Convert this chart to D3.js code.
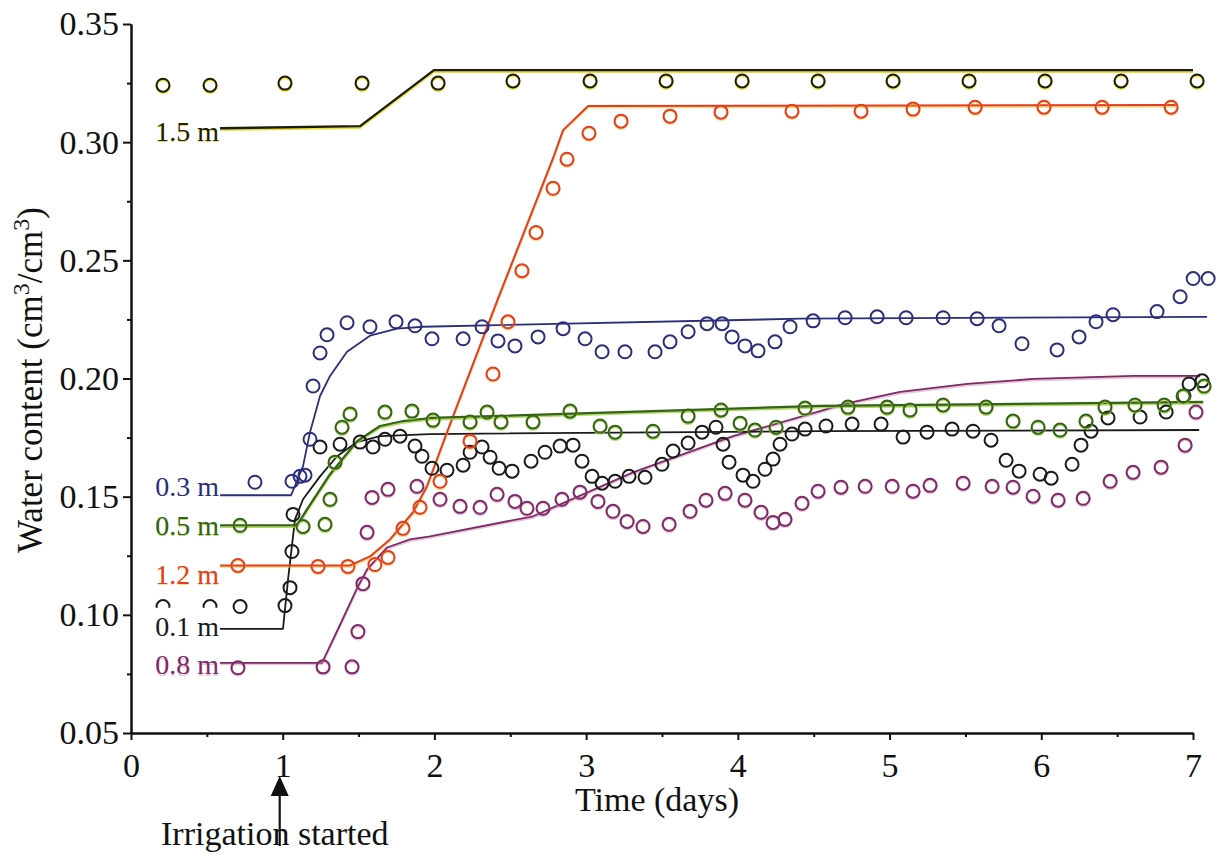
<!DOCTYPE html>
<html><head><meta charset="utf-8">
<script src="https://cdn.jsdelivr.net/npm/d3@7"></script>
<style>
body{margin:0;background:#fff}
svg{display:block}
text{font-family:"Liberation Serif","Times New Roman",serif}
</style>
</head><body>
<svg id="chart" width="1223" height="867"></svg>
<script>
// ---------- data ----------
const seriesNames = ["1.5 m","0.3 m","0.5 m","1.2 m","0.1 m","0.8 m"];
const xTicks = [0,1,2,3,4,5,6,7];
const yTicks = [0.05,0.10,0.15,0.20,0.25,0.30,0.35];

// model (simulated) curves
const m15Days = [0.587,1.51,1.997,7.0];
const m15Vals = [0.3059,0.3068,0.3305,0.3305];
const m03Days = [0.587,1.055,1.134,1.180,1.246,1.312,1.424,1.575,1.753,1.925,4.410,7.093];
const m03Vals = [0.1506,0.1506,0.1629,0.1773,0.1926,0.2011,0.2113,0.2181,0.2211,0.2219,0.2253,0.2261];
const m05Days = [0.587,1.094,1.160,1.312,1.490,1.641,1.793,1.971,4.542,7.067];
const m05Vals = [0.1379,0.1379,0.1446,0.1595,0.1735,0.1799,0.1820,0.1833,0.1884,0.1901];
const m12Days = [0.587,1.444,1.575,1.707,1.859,1.951,2.083,2.419,2.782,2.848,3.013,6.895];
const m12Vals = [0.1209,0.1209,0.1247,0.1319,0.1434,0.1544,0.1773,0.2338,0.2932,0.3051,0.3153,0.3157];
const m01Days = [0.587,1.002,1.035,1.081,1.134,1.246,1.358,1.490,1.641,1.971,4.542,7.041];
const m01Vals = [0.0941,0.0941,0.1149,0.1404,0.1489,0.1586,0.1671,0.1731,0.1756,0.1765,0.1777,0.1782];
const m08Days = [0.587,1.259,1.378,1.496,1.556,1.688,1.839,1.971,2.650,3.309,3.968,4.542,4.694,5.069,5.511,5.946,6.605,7.047];
const m08Vals = [0.0797,0.0797,0.0958,0.1120,0.1192,0.1285,0.1319,0.1332,0.1417,0.1603,0.1756,0.1862,0.1892,0.1943,0.1977,0.1998,0.2011,0.2011];

// measured points
const o15Days = [0.211,0.521,1.015,1.523,2.024,2.518,3.026,3.527,4.028,4.529,5.023,5.524,6.025,6.526,7.027];
const o15Vals = [0.3241,0.3241,0.3250,0.3250,0.3250,0.3259,0.3259,0.3259,0.3259,0.3259,0.3259,0.3259,0.3259,0.3259,0.3259];
const o03Days = [0.817,1.061,1.114,1.147,1.180,1.200,1.246,1.292,1.424,1.575,1.747,1.872,1.984,2.189,2.314,2.419,2.531,2.683,2.848,2.993,3.105,3.256,3.454,3.553,3.672,3.797,3.896,3.962,4.047,4.133,4.245,4.344,4.496,4.707,4.918,5.109,5.353,5.577,5.722,5.873,6.104,6.249,6.361,6.473,6.763,6.915,7.001,7.100];
const o03Vals = [0.1561,0.1565,0.1586,0.1591,0.1743,0.1968,0.2108,0.2185,0.2236,0.2219,0.2240,0.2223,0.2168,0.2168,0.2219,0.2159,0.2138,0.2176,0.2211,0.2168,0.2113,0.2113,0.2113,0.2155,0.2198,0.2232,0.2232,0.2176,0.2138,0.2117,0.2155,0.2219,0.2244,0.2257,0.2261,0.2257,0.2257,0.2253,0.2223,0.2147,0.2121,0.2176,0.2240,0.2270,0.2283,0.2346,0.2423,0.2423];
const o05Days = [0.719,1.134,1.279,1.312,1.345,1.391,1.444,1.674,1.852,1.991,2.235,2.347,2.439,2.650,2.894,3.092,3.191,3.441,3.672,3.889,4.015,4.113,4.252,4.443,4.726,4.984,5.135,5.353,5.636,5.814,5.979,6.124,6.295,6.420,6.618,6.810,6.935,7.073];
const o05Vals = [0.1379,0.1374,0.1383,0.1489,0.1646,0.1794,0.1850,0.1858,0.1862,0.1824,0.1816,0.1858,0.1816,0.1816,0.1862,0.1799,0.1773,0.1777,0.1841,0.1867,0.1811,0.1782,0.1794,0.1875,0.1879,0.1879,0.1867,0.1888,0.1879,0.1820,0.1794,0.1782,0.1820,0.1879,0.1888,0.1888,0.1926,0.1968];
const o12Days = [0.705,1.233,1.430,1.608,1.694,1.793,1.905,2.037,2.235,2.386,2.485,2.577,2.670,2.782,2.874,3.019,3.230,3.553,3.889,4.357,4.812,5.155,5.564,6.018,6.401,6.856];
const o12Vals = [0.1209,0.1205,0.1205,0.1213,0.1243,0.1366,0.1455,0.1565,0.1735,0.2019,0.2240,0.2456,0.2618,0.2805,0.2928,0.3038,0.3089,0.3110,0.3127,0.3131,0.3131,0.3140,0.3148,0.3148,0.3148,0.3148];
const o01Days = [0.211,0.521,0.719,1.015,1.048,1.061,1.068,1.246,1.378,1.510,1.595,1.674,1.773,1.872,1.918,1.984,2.083,2.189,2.235,2.314,2.367,2.426,2.512,2.637,2.729,2.828,2.914,2.973,3.039,3.105,3.191,3.283,3.388,3.500,3.573,3.672,3.764,3.856,3.902,3.942,4.034,4.100,4.179,4.232,4.278,4.357,4.443,4.581,4.753,4.944,5.089,5.247,5.412,5.550,5.669,5.768,5.854,5.992,6.065,6.203,6.262,6.328,6.440,6.651,6.823,6.941,6.974,7.060];
const o01Vals = [0.1035,0.1035,0.1035,0.1039,0.1115,0.1268,0.1425,0.1710,0.1722,0.1731,0.1710,0.1743,0.1756,0.1714,0.1671,0.1620,0.1612,0.1633,0.1688,0.1710,0.1667,0.1620,0.1608,0.1650,0.1688,0.1714,0.1718,0.1650,0.1586,0.1557,0.1565,0.1586,0.1582,0.1637,0.1693,0.1727,0.1773,0.1794,0.1722,0.1646,0.1591,0.1565,0.1616,0.1659,0.1722,0.1765,0.1786,0.1799,0.1807,0.1807,0.1752,0.1773,0.1786,0.1777,0.1739,0.1654,0.1608,0.1595,0.1578,0.1637,0.1718,0.1777,0.1833,0.1837,0.1858,0.1926,0.1977,0.1990];
const o08Days = [0.705,1.266,1.457,1.496,1.529,1.556,1.589,1.694,1.885,2.037,2.169,2.301,2.413,2.531,2.610,2.716,2.841,2.960,3.078,3.177,3.270,3.375,3.547,3.685,3.790,3.916,4.047,4.153,4.232,4.311,4.423,4.529,4.680,4.839,5.017,5.155,5.267,5.485,5.676,5.814,5.946,6.111,6.276,6.454,6.605,6.790,6.948,7.020];
const o08Vals = [0.0776,0.0780,0.0780,0.0929,0.1132,0.1349,0.1497,0.1531,0.1544,0.1489,0.1459,0.1455,0.1510,0.1480,0.1451,0.1451,0.1489,0.1519,0.1480,0.1438,0.1395,0.1374,0.1383,0.1438,0.1485,0.1514,0.1485,0.1434,0.1391,0.1404,0.1472,0.1523,0.1540,0.1544,0.1544,0.1523,0.1548,0.1557,0.1544,0.1540,0.1502,0.1485,0.1493,0.1565,0.1603,0.1625,0.1718,0.1858];

// ---------- styles ----------
const styles = {
  "1.5 m": {color:"#1c1c10", halo:"#e6d800", haloOp:0.8, labelDy:3, lw:2.4},
  "0.3 m": {color:"#2b2e7a", halo:null, haloOp:0, labelDy:-9, lw:1.8},
  "0.5 m": {color:"#34621a", halo:"#9fd03c", haloOp:0.8, labelDy:0, lw:2.2},
  "1.2 m": {color:"#e23c22", halo:"#f5c030", haloOp:0.55, labelDy:9, lw:2},
  "0.1 m": {color:"#1a1a1a", halo:null, haloOp:0, labelDy:-2, lw:1.8},
  "0.8 m": {color:"#7e2a66", halo:"#d08ab0", haloOp:0.5, labelDy:2, lw:1.8}
};

const series = [
  {name:"0.8 m", md:m08Days, mv:m08Vals, od:o08Days, ov:o08Vals},
  {name:"0.1 m", md:m01Days, mv:m01Vals, od:o01Days, ov:o01Vals},
  {name:"1.2 m", md:m12Days, mv:m12Vals, od:o12Days, ov:o12Vals},
  {name:"0.5 m", md:m05Days, mv:m05Vals, od:o05Days, ov:o05Vals},
  {name:"0.3 m", md:m03Days, mv:m03Vals, od:o03Days, ov:o03Vals},
  {name:"1.5 m", md:m15Days, mv:m15Vals, od:o15Days, ov:o15Vals}
];

// ---------- chart ----------
const svg = d3.select("#chart");
const x = d3.scaleLinear().domain([0,7]).range([131,1193]);
const y = d3.scaleLinear().domain([0.05,0.35]).range([733,24]);

const line = d3.line().x(d=>x(d[0])).y(d=>y(d[1]));
const plot = svg.append("g");

// model lines
series.forEach(s=>{
  const st = styles[s.name];
  const pts = s.md.map((d,i)=>[d,s.mv[i]]);
  if (st.halo) {
    plot.append("path").datum(pts).attr("d",line).attr("fill","none")
      .attr("stroke",st.halo).attr("stroke-opacity",st.haloOp).attr("stroke-width",st.lw+0.6)
      .attr("transform","translate(0,1.3)").attr("stroke-linejoin","round");
  }
  plot.append("path").datum(pts).attr("d",line).attr("fill","none")
    .attr("stroke",st.color).attr("stroke-width",st.lw).attr("stroke-linejoin","round");
});

// depth labels
series.forEach(s=>{
  const st = styles[s.name];
  const lx = x(s.md[0]) - 1, ly = y(s.mv[0]) + st.labelDy;
  if (st.halo) {
    plot.append("text").attr("x",lx).attr("y",ly+1.2).attr("text-anchor","end")
      .attr("dominant-baseline","central").attr("font-size",28).attr("fill",st.halo)
      .attr("fill-opacity",st.haloOp).text(s.name);
  }
  plot.append("text").attr("x",lx).attr("y",ly).attr("text-anchor","end")
    .attr("dominant-baseline","central").attr("font-size",28).attr("fill",st.color).text(s.name);
});

// measured circles
series.forEach(s=>{
  const st = styles[s.name];
  const pts = s.od.map((d,i)=>[d,s.ov[i]]);
  const g = plot.append("g");
  if (st.halo) {
    g.selectAll("circle.h").data(pts).join("circle").attr("class","h")
      .attr("cx",d=>x(d[0])).attr("cy",d=>y(d[1])+1.2).attr("r",6.5)
      .attr("fill","none").attr("stroke",st.halo).attr("stroke-opacity",st.haloOp).attr("stroke-width",2.2);
  }
  g.selectAll("circle.m").data(pts).join("circle").attr("class","m")
    .attr("cx",d=>x(d[0])).attr("cy",d=>y(d[1])).attr("r",6.5)
    .attr("fill","none").attr("stroke",st.color).attr("stroke-width",2);
});

// the 0.1 m label box hides the lower half of the first measured points (as in the original)
{
  const s = series[1];
  const lx = x(s.md[0]) - 1, ly = y(s.mv[0]) + styles[s.name].labelDy;
  plot.append("rect").attr("x",lx-70).attr("y",ly-19).attr("width",70).attr("height",34).attr("fill","#fff");
  plot.append("text").attr("x",lx).attr("y",ly).attr("text-anchor","end")
    .attr("dominant-baseline","central").attr("font-size",28).attr("fill",styles[s.name].color).text(s.name);
}

// axes
const xAxis = d3.axisBottom(x).tickValues(xTicks).tickFormat(d3.format("d")).tickSize(7).tickSizeOuter(0).tickPadding(13);
const xMinor = d3.axisBottom(x).tickValues([0.5,1.5,2.5,3.5,4.5,5.5,6.5]).tickFormat("").tickSize(4).tickSizeOuter(0);
const yAxis = d3.axisLeft(y).tickValues(yTicks).tickFormat(d3.format(".2f")).tickSize(8).tickSizeOuter(0).tickPadding(4);
const yMinor = d3.axisLeft(y).tickValues([0.075,0.125,0.175,0.225,0.275,0.325]).tickFormat("").tickSize(4).tickSizeOuter(0);

function styleAxis(g){
  g.select(".domain").attr("stroke","#111").attr("stroke-width",2);
  g.selectAll(".tick line").attr("stroke","#111").attr("stroke-width",2);
  g.selectAll(".tick text").attr("fill","#111").attr("font-size",34)
    .attr("font-family",'"Liberation Serif","Times New Roman",serif');
}
svg.append("g").attr("transform","translate(0,733)").call(xMinor).call(styleAxis);
svg.append("g").attr("transform","translate(0,733)").call(xAxis).call(styleAxis);
svg.append("g").attr("transform","translate(131,0)").call(yMinor).call(styleAxis);
svg.append("g").attr("transform","translate(131,0)").call(yAxis).call(styleAxis);

// axis titles
svg.append("text").attr("x",657).attr("y",811).attr("text-anchor","middle")
  .attr("font-size",34).attr("fill","#111").text("Time (days)");

const yt = svg.append("text").attr("transform","translate(42,380) rotate(-90)")
  .attr("text-anchor","middle").attr("font-size",35).attr("fill","#111");
yt.append("tspan").text("Water content (cm");
yt.append("tspan").attr("font-size",24).attr("dy",-13).text("3");
yt.append("tspan").attr("dy",13).text("/cm");
yt.append("tspan").attr("font-size",24).attr("dy",-13).text("3");
yt.append("tspan").attr("dy",13).text(")");

// irrigation arrow
const ax = x(1) - 3;
svg.append("line").attr("x1",ax).attr("x2",ax).attr("y1",792).attr("y2",846)
  .attr("stroke","#111").attr("stroke-width",2.2);
svg.append("path").attr("d",`M${ax},776 L${ax-9},796 L${ax+9},796 Z`).attr("fill","#111");
svg.append("text").attr("x",161).attr("y",845).attr("font-size",34).attr("fill","#111")
  .text("Irrigation started");
</script>
</body></html>
